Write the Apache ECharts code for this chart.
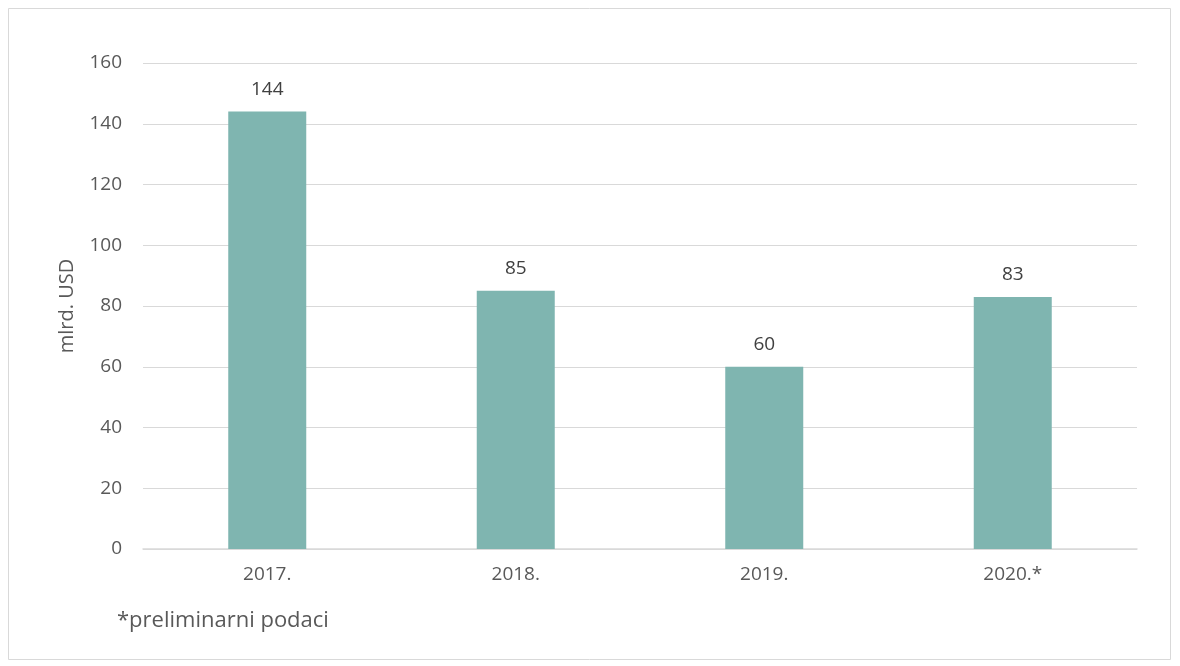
<!DOCTYPE html>
<html>
<head>
<meta charset="utf-8">
<script src="https://cdn.jsdelivr.net/npm/echarts@6/dist/echarts.min.js"></script>
<style>
    html, body { margin: 0; padding: 0; background: #fff; }
    #main { width: 1180px; height: 666px; }
</style>
</head>
<body>
<div id="main"></div>
<script>
// godine i vrijednosti (mlrd. USD)
var godine = ['2017.', '2018.', '2019.', '2020.*'];
var vrijednosti = [144, 85, 60, 83];
var yTicks = { min: 0, max: 160, interval: 20 };
var napomena = '*preliminarni podaci';

var font = 'Open Sans';
var myChart = echarts.init(document.getElementById('main'));
var option = {
    backgroundColor: '#fff',
    textStyle: { fontFamily: font },
    grid: { left: 143, right: 43, top: 63, bottom: 117 },
    graphic: [
        {
            type: 'rect',
            shape: { x: 8.5, y: 8.5, width: 1162, height: 651 },
            style: { fill: 'none', stroke: '#d9d9d9', lineWidth: 1 }
        },
        {
            type: 'text',
            left: 117, top: 610,
            style: { text: napomena, fill: '#595959', font: '22px "' + font + '"' }
        }
    ],
    xAxis: {
        type: 'category',
        data: godine,
        axisLine: { lineStyle: { color: '#d9d9d9', width: 1.5 } },
        axisTick: { show: false },
        axisLabel: { color: '#595959', fontSize: 19, margin: 16, fontFamily: font }
    },
    yAxis: {
        type: 'value',
        min: yTicks.min,
        max: yTicks.max,
        interval: yTicks.interval,
        name: 'mlrd. USD',
        nameLocation: 'middle',
        nameGap: 66,
        nameRotate: 90,
        nameTextStyle: { color: '#595959', fontSize: 20, fontFamily: font },
        axisLine: { show: false },
        axisTick: { show: false },
        axisLabel: { color: '#595959', fontSize: 19, margin: 21, fontFamily: font },
        splitLine: { lineStyle: { color: '#d9d9d9', width: 1 } }
    },
    series: [
        {
            type: 'bar',
            data: vrijednosti,
            barWidth: 78,
            itemStyle: { color: '#7fb5b0' },
            label: {
                show: true,
                position: 'top',
                distance: 13,
                color: '#404040',
                fontSize: 19,
                fontFamily: font
            }
        }
    ]
};
myChart.setOption(option);
</script>
</body>
</html>
